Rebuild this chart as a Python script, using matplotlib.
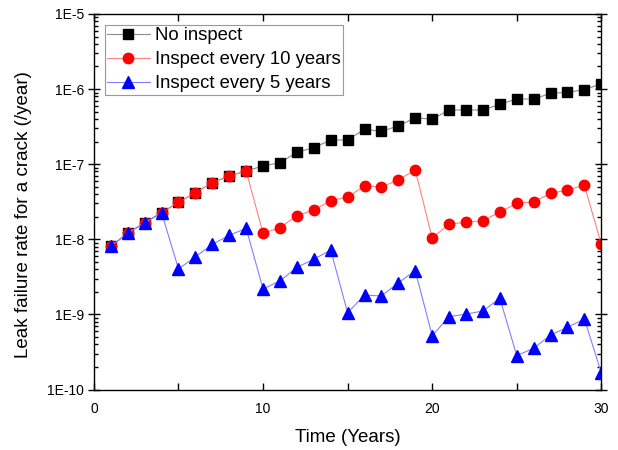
import matplotlib
matplotlib.use('Agg')
import matplotlib.pyplot as plt
from matplotlib.ticker import LogLocator, FuncFormatter, MultipleLocator, NullFormatter
import numpy as np

plt.rcParams['font.family'] = ['Liberation Sans', 'DejaVu Sans']

years = list(range(1, 31))

# no inspection: leak failure rate grows steadily
no_inspect = [8.1e-9, 1.21e-8, 1.66e-8, 2.26e-8, 3.11e-8, 4.18e-8, 5.68e-8, 6.97e-8, 8.13e-8, 9.46e-8,
              1.05e-7, 1.44e-7, 1.66e-7, 2.1e-7, 2.1e-7, 2.92e-7, 2.74e-7, 3.23e-7, 4.16e-7, 3.96e-7,
              5.27e-7, 5.27e-7, 5.27e-7, 6.27e-7, 7.38e-7, 7.38e-7, 8.78e-7, 9.06e-7, 9.82e-7, 1.18e-6]

inspect_10 = [8.1e-9, 1.21e-8, 1.66e-8, 2.26e-8, 3.11e-8, 4.18e-8, 5.68e-8, 6.97e-8, 8.13e-8, 1.2e-8,
              1.43e-8, 2.06e-8, 2.45e-8, 3.27e-8, 3.63e-8, 5.17e-8, 4.98e-8, 6.17e-8, 8.38e-8, 1.04e-8,
              1.6e-8, 1.68e-8, 1.77e-8, 2.31e-8, 3.01e-8, 3.17e-8, 4.09e-8, 4.54e-8, 5.24e-8, 8.57e-9]

inspect_5 = [8.1e-9, 1.21e-8, 1.66e-8, 2.26e-8, 4.03e-9, 5.86e-9, 8.57e-9, 1.13e-8, 1.4e-8, 2.18e-9,
             2.79e-9, 4.24e-9, 5.42e-9, 7.21e-9, 1.05e-9, 1.81e-9, 1.76e-9, 2.64e-9, 3.82e-9, 5.21e-10,
             9.33e-10, 1.01e-9, 1.11e-9, 1.64e-9, 2.83e-10, 3.54e-10, 5.32e-10, 6.74e-10, 8.69e-10, 1.67e-10]

fig = plt.figure(figsize=(6.18, 4.5), dpi=100)
ax = fig.add_axes([0.152, 0.1344, 0.821, 0.8345])

ax.plot(years, no_inspect, color='#8c8c8c', lw=0.8, marker='s', ms=6.5,
        mfc='black', mec='black', label='No inspect')
ax.plot(years, inspect_10, color='#ff8080', lw=0.8, marker='o', ms=7.5,
        mfc='red', mec='red', label='Inspect every 10 years')
ax.plot(years, inspect_5, color='#8080ff', lw=0.8, marker='^', ms=8,
        mfc='blue', mec='blue', label='Inspect every 5 years')

ax.set_yscale('log')
ax.set_xlim(0, 30)
ax.set_ylim(1e-10, 1e-5)

ax.xaxis.set_major_locator(MultipleLocator(10))
ax.xaxis.set_minor_locator(MultipleLocator(5))
ax.yaxis.set_major_locator(LogLocator(base=10, numticks=10))
ax.yaxis.set_minor_locator(LogLocator(base=10, subs=np.arange(2, 10), numticks=20))
ax.yaxis.set_minor_formatter(NullFormatter())
ax.yaxis.set_major_formatter(FuncFormatter(lambda v, p: '1E%d' % int(round(np.log10(v)))))

for s in ax.spines.values():
    s.set_linewidth(1.0)

ax.tick_params(axis='x', which='major', direction='in', length=5, width=1, top=True,
               labelsize=10, pad=9)
ax.tick_params(axis='x', which='minor', direction='in', length=5, width=1, top=True)
ax.tick_params(axis='y', which='major', direction='inout', length=8, width=1, right=True,
               labelsize=10, pad=3)
ax.tick_params(axis='y', which='minor', direction='in', length=3, width=1, right=True)

ax.set_xlabel('Time (Years)', fontsize=13.5)
ax.set_ylabel('Leak failure rate for a crack (/year)', fontsize=13.5)
ax.xaxis.set_label_coords(0.5, -0.105)
ax.yaxis.set_label_coords(-0.123, 0.466)

leg = ax.legend(loc='upper left', fontsize=13.3, frameon=True, fancybox=False,
                edgecolor='#808080', handlelength=2.3, borderpad=0.12,
                labelspacing=0.38, handletextpad=0.3, borderaxespad=0.6)
leg.get_frame().set_linewidth(0.8)

fig.savefig('out.png', dpi=100)
